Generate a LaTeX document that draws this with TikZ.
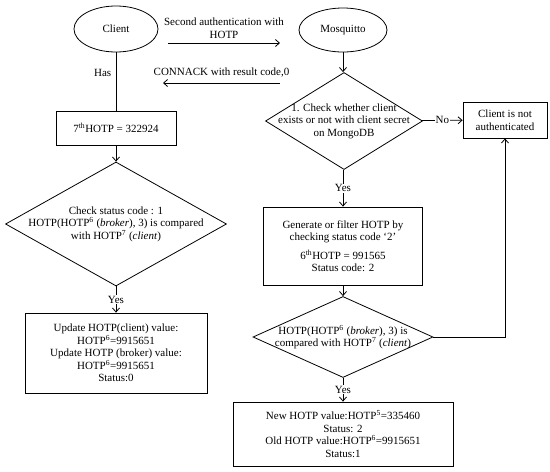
\documentclass[tikz,border=0pt]{standalone}
\usepackage{fontspec}
\setmainfont{Liberation Serif}
\usetikzlibrary{arrows.meta, shapes.geometric, positioning}

\begin{document}
\begin{tikzpicture}[x=1pt, y=-1pt, line width=0.8pt, >={Straight Barb[length=4pt, width=7pt]},
    every node/.style={font=\fontsize{11}{12.5}\selectfont, align=center},
    ell/.style={draw, ellipse, inner sep=0pt},
    box/.style={draw, rectangle, inner sep=2pt},
    dia/.style={draw, diamond, inner sep=0pt},
    tag/.style={fill=white, inner sep=1pt}]
    \useasboundingbox (0,0) rectangle (550,472);

    % Left column
    \node[ell, minimum width=84pt, minimum height=46pt] (client) at (116,29) {Client};
    \node[box, minimum width=120pt, minimum height=34pt] (hotp7) at (116,128) {7\textsuperscript{th}HOTP = 322924};
    \node[dia, minimum width=221pt, minimum height=124pt] (check1) at (116,224) {};
    \node at (check1) {Check status code : 1\\HOTP(HOTP\textsuperscript{6} (\textit{broker}), 3) is compared\\with HOTP\textsuperscript{7} (\textit{client})};
    \node[box, minimum width=182pt, minimum height=80pt] (update) at (116,353)
        {Update HOTP(client) value:\\HOTP\textsuperscript{6}=9915651\\Update HOTP (broker) value:\\HOTP\textsuperscript{6}=9915651\\Status:0};

    % Right column
    \node[ell, minimum width=88pt, minimum height=44pt] (mosq) at (343,30) {Mosquitto};
    \node[dia, minimum width=157pt, minimum height=97pt] (exists) at (344,121) {};
    \node at (exists) {1. Check whether client\\exists or not with client secret\\on MongoDB};
    \node[box, minimum width=84pt, minimum height=36pt] (notauth) at (505,120) {Client is not\\authenticated};
    \node[box, minimum width=159pt, minimum height=78pt] (gen) at (343,246)
        {Generate or filter HOTP by\\checking status code `2'\\[6pt]6\textsuperscript{th}HOTP = 991565\\Status code: 2};
    \node[dia, minimum width=180pt, minimum height=81pt] (check2) at (343,337) {};
    \node at (check2) {HOTP(HOTP\textsuperscript{6} (\textit{broker}), 3) is\\compared with HOTP\textsuperscript{7} (\textit{client})};
    \node[box, minimum width=220pt, minimum height=64pt] (newval) at (343,434)
        {New HOTP value:HOTP\textsuperscript{5}=335460\\Status: 2\\Old HOTP value:HOTP\textsuperscript{6}=9915651\\Status:1};

    % Messages between client and broker
    \coordinate (authL) at (168,43);
    \coordinate (authR) at (280,43);
    \coordinate (ackL) at (163,83);
    \coordinate (ackR) at (280,83);
    \draw[->] (authL) -- (authR) node[midway, above=1pt] {Second authentication with\\HOTP};
    \draw[->] (ackR) -- (ackL) node[midway, above=2pt] {CONNACK with result code,0};

    % Flow
    \draw (client) -- (hotp7) node[pos=0.35, left=1pt] {Has};
    \draw[->] (hotp7) -- (check1);
    \draw[->] (check1) -- (update) node[midway, tag] {Yes};
    \draw[->] (mosq) -- (mosq |- exists.north);
    \draw[->] (exists) -- (notauth) node[midway, tag] {No};
    \draw[->] (exists.south -| gen) -- (gen) node[midway, tag] {Yes};
    \draw[->] (gen) -- (check2);
    \draw[->] (check2.east) -| (notauth.south);
    \draw[->] (check2) -- (newval) node[midway, tag] {Yes};
\end{tikzpicture}
\end{document}
